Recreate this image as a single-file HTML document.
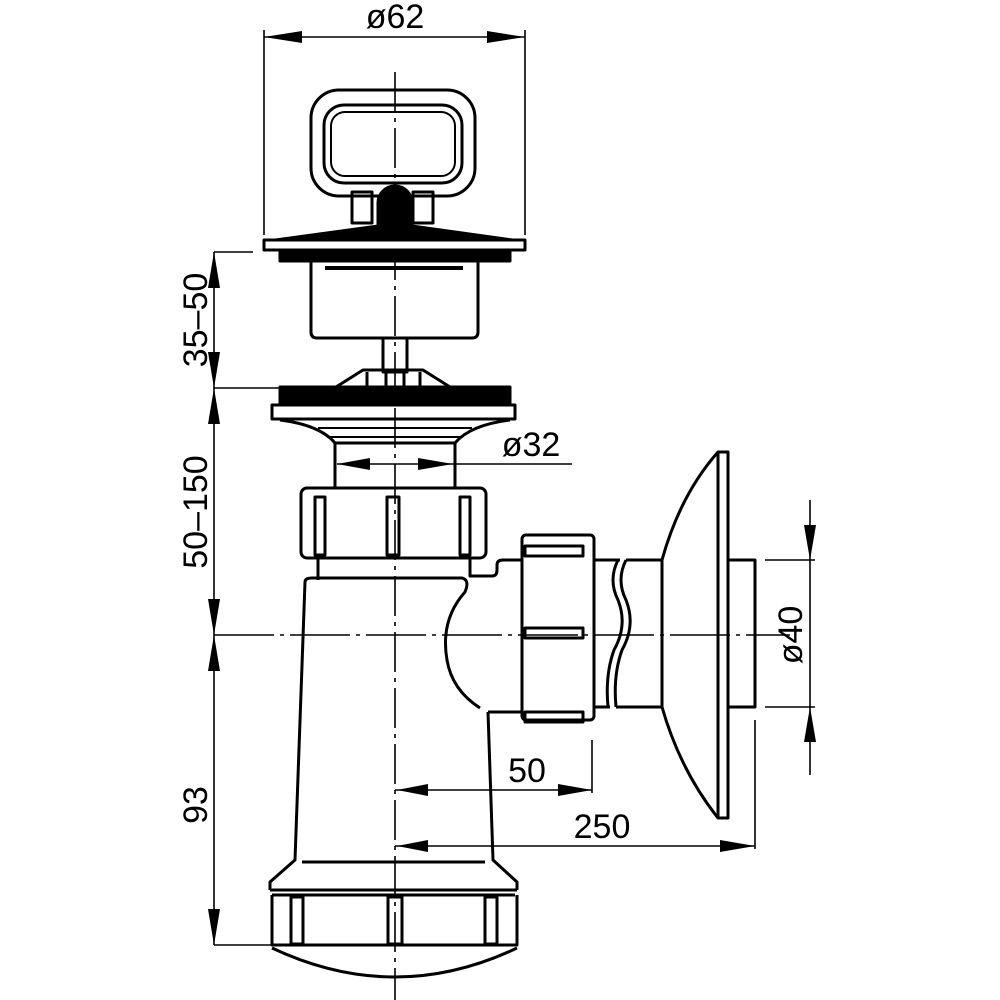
<!DOCTYPE html>
<html><head><meta charset="utf-8"><style>html,body{margin:0;padding:0;background:#fff}svg{display:block}</style></head>
<body>
<svg width="1000" height="1000" viewBox="0 0 1000 1000" xmlns="http://www.w3.org/2000/svg">
<g fill="none" stroke="#000" stroke-width="3" stroke-linejoin="round">
<line x1="395" y1="72" x2="395" y2="1000" stroke-width="1.6" stroke-dasharray="40,6,4,6"/>
<line x1="214" y1="635" x2="790" y2="635" stroke-width="1.6" stroke-dasharray="60,6,4,6"/>
<line x1="264" y1="30" x2="264" y2="235" stroke-width="1.6"/>
<line x1="525" y1="30" x2="525" y2="235" stroke-width="1.6"/>
<line x1="264" y1="37" x2="525" y2="37" stroke-width="1.6"/>
<path d="M264,37 L302,31 L302,43Z M525,37 L487,31 L487,43Z" fill="#000" stroke="none"/>
<rect x="311" y="90" width="164" height="106" rx="28"/>
<rect x="324" y="105" width="138" height="78" rx="20"/>
<rect x="331" y="112" width="124" height="64" rx="14" stroke-width="2"/>
<rect x="352" y="192" width="20" height="31"/>
<rect x="413" y="192" width="20" height="31"/>
<path d="M378,225 L378,203 A17,17 0 0 1 412,203 L412,225Z" fill="#000"/>
<path d="M268,240 L378,225 L412,225 L520,240Z" fill="#000" stroke-width="1"/>
<rect x="264" y="240" width="261" height="10" fill="#fff"/>
<rect x="280" y="250" width="230" height="11" fill="#000"/>
<path d="M311,262 L311,332 Q311,338 317,338 L472,338 Q478,338 478,332 L478,262"/>
<line x1="325" y1="268" x2="463" y2="268" stroke-width="4"/>
<rect x="383" y="338" width="24" height="34"/>
<path d="M336,387 L363,370 L423,370 L450,387Z"/>
<line x1="367" y1="372" x2="367" y2="387"/><line x1="386" y1="372" x2="386" y2="387"/><line x1="404" y1="372" x2="404" y2="387"/><line x1="420" y1="372" x2="420" y2="387"/>
<rect x="280" y="387" width="230" height="18" fill="#000"/>
<rect x="272" y="405" width="243" height="14"/>
<path d="M280,420 Q320,425 335,443 L455,443 Q470,425 510,420"/>
<line x1="318" y1="428" x2="472" y2="428" stroke-width="2"/>
<line x1="330" y1="437" x2="460" y2="437" stroke-width="2"/>
<path d="M335,443 L335,488 M455,443 L455,488"/>
<line x1="337" y1="464" x2="572" y2="464" stroke-width="1.6"/>
<path d="M337,464 L370,458 L370,470Z M453,464 L418,458 L418,470Z" fill="#000" stroke="none"/>
<rect x="301" y="488" width="185" height="70" rx="6"/>
<rect x="315" y="497" width="10" height="58"/><rect x="387" y="497" width="12" height="58"/><rect x="460" y="497" width="10" height="58"/>
<path d="M318,558 L318,580 M470,558 L470,576 L492,576 Q497,576 497,570 L497,565 Q497,560 503,560 L522,560"/>
<path d="M305,582 Q305,578 312,578 L462,578 Q470,580 465,592 Q440,620 447,660 Q452,690 480,708"/>
<path d="M305,582 L295,860 L270,882 L270,890"/>
<path d="M488,712 L522,712 M488,712 L493,860 L517,882 L517,890"/>
<line x1="302" y1="862" x2="485" y2="862" stroke-width="3"/>
<line x1="270" y1="890" x2="517" y2="890"/>
<line x1="272" y1="895" x2="515" y2="895"/>
<path d="M272,895 L272,945 L517,945 L517,895"/>
<rect x="291" y="897" width="12" height="47"/><rect x="388" y="897" width="14" height="47"/><rect x="485" y="897" width="12" height="47"/>
<path d="M272,948 Q395,1006 517,948"/>
<rect x="522" y="535" width="72" height="185" rx="4"/>
<rect x="525" y="546" width="58" height="10"/><rect x="525" y="628" width="58" height="10"/><rect x="525" y="712" width="58" height="10"/>
<path d="M594,560 L620,560 M594,707 L610,707"/>
<path d="M618,560 Q608,580 618,600 Q628,625 614,650 Q605,675 608,707" />
<path d="M626,560 Q616,580 626,600 Q636,625 622,650 Q613,675 616,707 M626,560 L662,560 M616,707 L662,707 M662,560 L662,707"/>
<path d="M662,560 Q680,495 718,452 L728,452 L728,818 L718,818 Q680,770 662,707"/>
<line x1="718" y1="452" x2="718" y2="818"/>
<rect x="728" y="560" width="27" height="147"/>
<line x1="765" y1="560" x2="815" y2="560" stroke-width="1.6"/>
<line x1="765" y1="707" x2="815" y2="707" stroke-width="1.6"/>
<line x1="810" y1="500" x2="810" y2="775" stroke-width="1.6"/>
<path d="M810,560 L804,525 L816,525Z M810,707 L804,742 L816,742Z" fill="#000" stroke="none"/>
<line x1="592" y1="740" x2="592" y2="793" stroke-width="1.6"/>
<line x1="755" y1="720" x2="755" y2="849" stroke-width="1.6"/>
<line x1="395" y1="790" x2="592" y2="790" stroke-width="1.6"/>
<line x1="395" y1="846" x2="755" y2="846" stroke-width="1.6"/>
<path d="M592,790 L558,784 L558,796Z M755,846 L720,840 L720,852Z M397,790 L428,784 L428,796Z M397,846 L428,840 L428,852Z" fill="#000" stroke="none"/>
<line x1="214" y1="252" x2="214" y2="945" stroke-width="1.6"/>
<line x1="214" y1="252" x2="253" y2="252" stroke-width="1.6"/>
<line x1="214" y1="388" x2="280" y2="388" stroke-width="1.6"/>
<line x1="214" y1="945" x2="395" y2="945" stroke-width="1.6"/>
<path d="M214,252 L208,288 L220,288Z M214,388 L208,352 L220,352Z M214,388 L208,424 L220,424Z M214,635 L208,599 L220,599Z M214,635 L208,671 L220,671Z M214,945 L208,909 L220,909Z" fill="#000" stroke="none"/>
</g>
<g font-family="'Liberation Sans', sans-serif" font-size="34" fill="#000">
<text x="395" y="28" text-anchor="middle">ø62</text>
<text x="531" y="456" text-anchor="middle">ø32</text>
<text x="527" y="782" text-anchor="middle">50</text>
<text x="602" y="838" text-anchor="middle">250</text>
<text transform="translate(790,635) rotate(-90)" text-anchor="middle" dy="12">ø40</text>
<text transform="translate(195,320) rotate(-90)" text-anchor="middle" dy="12">35–50</text>
<text transform="translate(195,512) rotate(-90)" text-anchor="middle" dy="12">50–150</text>
<text transform="translate(195,805) rotate(-90)" text-anchor="middle" dy="12">93</text>
</g>
</svg>
</body></html>
